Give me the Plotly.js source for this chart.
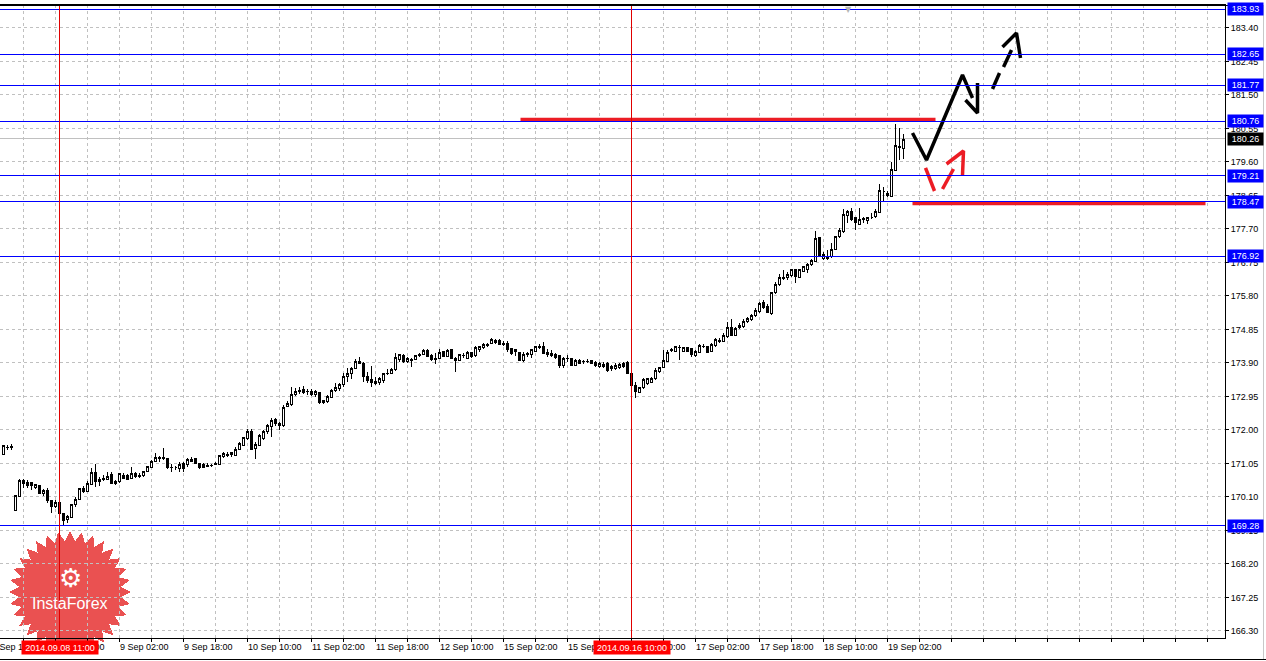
<!DOCTYPE html>
<html><head><meta charset="utf-8">
<script src="https://cdn.plot.ly/plotly-3.0.1.min.js"></script>
<style>html,body{margin:0;padding:0;background:#fff;overflow:hidden}#chart{width:1266px;height:661px}
.shapelayer path{shape-rendering:crispEdges}
.boxlayer path{shape-rendering:crispEdges}</style>
</head><body><div id="chart"></div>
<script>
// ---- Hourly candles (bar index 0 = 5 Sep 21:00) ----
const openV=[171.31,171.49,171.51,169.71,170.11,170.58,170.51,170.50,170.36,170.43,
170.19,170.28,169.99,169.83,169.94,169.62,169.47,169.52,169.90,170.04,
170.34,170.25,170.46,170.80,170.53,170.61,170.61,170.74,170.48,170.53,
170.72,170.70,170.63,170.76,170.69,170.72,170.82,170.93,171.10,171.23,
171.20,171.18,170.95,170.93,170.92,171.04,171.01,171.12,171.18,171.04,
171.03,171.00,170.98,171.03,171.03,171.25,171.31,171.31,171.29,171.46,
171.57,171.76,171.95,171.47,171.57,171.76,171.95,172.09,172.31,172.19,
172.14,172.66,172.71,173.01,173.13,173.15,173.08,173.10,173.01,173.06,
172.78,172.80,172.93,173.11,173.18,173.29,173.51,173.59,173.75,173.89,
173.89,173.51,173.42,173.37,173.34,173.40,173.59,173.61,173.72,174.01,
174.11,173.93,174.00,174.00,174.10,174.15,174.25,174.11,174.03,174.03,
174.22,174.08,174.27,174.03,173.98,174.12,174.03,174.20,174.11,174.27,
174.33,174.41,174.46,174.53,174.55,174.46,174.46,174.30,174.27,174.20,
173.98,174.17,174.15,174.22,174.36,174.36,174.20,174.17,174.14,174.11,
173.84,174.03,174.03,173.84,173.98,173.93,173.94,173.96,173.92,173.80,
173.86,173.89,173.79,173.75,173.77,173.89,173.92,173.61,173.27,173.07,
173.20,173.32,173.35,173.45,173.67,173.77,173.94,174.25,174.24,174.35,
174.24,174.33,174.32,174.11,174.20,174.36,174.36,174.22,174.39,174.52,
174.52,174.65,174.92,174.69,174.96,174.93,175.07,175.12,175.24,175.37,
175.62,175.50,175.29,175.90,176.13,176.31,176.32,176.39,176.54,176.32,
176.49,176.56,176.70,176.79,177.47,176.85,176.85,176.92,177.12,177.48,
177.62,178.08,178.21,178.02,177.83,177.97,177.93,178.04,178.05,178.17,
178.76,178.72,178.63,179.37,180.05,179.99];
const highV=[171.58,171.58,171.59,170.15,170.62,170.60,170.58,170.53,170.48,170.44,
170.32,170.36,170.00,170.01,169.96,169.66,169.59,169.91,170.11,170.36,
170.41,170.54,170.91,171.03,170.68,170.72,170.80,170.82,170.57,170.78,
170.79,170.74,170.94,170.82,170.77,170.84,170.98,171.15,171.34,171.27,
171.48,171.20,171.03,170.99,171.08,171.10,171.20,171.22,171.20,171.07,
171.05,171.05,171.04,171.10,171.29,171.39,171.38,171.38,171.53,171.67,
171.81,172.03,172.02,171.67,171.90,172.00,172.16,172.33,172.33,172.24,
172.71,172.83,173.21,173.18,173.21,173.25,173.15,173.15,173.13,173.09,
172.85,173.00,173.15,173.34,173.34,173.61,173.75,173.78,174.00,174.06,
173.92,173.65,173.81,173.51,173.51,173.61,173.72,173.75,174.19,174.15,
174.15,174.08,174.03,174.13,174.19,174.30,174.30,174.15,174.17,174.31,
174.25,174.29,174.29,174.08,174.16,174.17,174.24,174.22,174.39,174.39,
174.46,174.46,174.62,174.58,174.58,174.52,174.51,174.33,174.31,174.22,
174.20,174.22,174.30,174.39,174.43,174.50,174.30,174.27,174.17,174.14,
174.07,174.14,174.05,174.01,174.01,173.99,174.00,173.99,173.96,173.92,
173.92,173.92,173.84,173.89,173.90,173.94,173.96,173.65,173.37,173.23,
173.47,173.48,173.51,173.75,173.80,174.27,174.27,174.32,174.39,174.41,
174.36,174.36,174.33,174.27,174.43,174.43,174.39,174.46,174.62,174.60,
174.74,175.05,175.14,174.93,175.02,175.15,175.21,175.28,175.45,175.64,
175.69,175.56,175.92,176.21,176.41,176.54,176.47,176.57,176.57,176.57,
176.66,176.73,176.85,177.64,177.47,177.06,177.10,177.29,177.51,177.72,
178.27,178.24,178.29,178.05,178.30,178.05,178.04,178.14,178.27,178.97,
178.90,178.78,179.59,180.67,180.55,180.39];
const lowV=[171.28,171.43,171.44,169.69,170.10,170.35,170.35,170.30,170.34,170.18,
170.14,169.92,169.66,169.78,169.60,169.29,169.35,169.49,169.81,170.03,
170.22,170.24,170.44,170.39,170.42,170.55,170.58,170.46,170.44,170.50,
170.60,170.58,170.61,170.65,170.63,170.68,170.80,170.91,171.08,171.08,
171.15,170.89,170.80,170.86,170.82,170.82,170.96,171.08,171.03,170.88,
170.92,170.94,170.95,171.00,171.01,171.20,171.22,171.22,171.26,171.43,
171.55,171.72,171.43,171.17,171.55,171.71,171.90,171.81,172.12,172.00,
172.09,172.64,172.68,172.97,173.02,173.02,172.99,172.96,172.94,172.75,
172.73,172.77,172.90,173.09,173.11,173.23,173.37,173.46,173.72,173.86,
173.37,173.34,173.21,173.28,173.28,173.32,173.56,173.58,173.68,173.94,
173.91,173.89,173.80,173.98,174.08,174.13,174.06,173.97,173.87,174.00,
174.06,174.06,174.00,173.65,173.96,174.03,174.00,174.03,174.08,174.22,
174.30,174.36,174.43,174.43,174.41,174.39,174.22,174.13,174.11,173.96,
173.94,174.08,174.05,174.20,174.30,174.15,174.08,174.08,174.01,173.77,
173.75,173.94,173.82,173.82,173.86,173.86,173.91,173.86,173.79,173.77,
173.77,173.65,173.67,173.70,173.74,173.75,173.58,173.23,172.92,173.04,
173.16,173.29,173.32,173.42,173.63,173.75,173.92,174.20,174.22,173.98,
174.20,174.20,174.08,174.08,174.17,174.32,174.17,174.20,174.36,174.46,
174.49,174.62,174.67,174.67,174.86,174.88,175.02,175.09,175.21,175.31,
175.43,175.31,175.26,175.87,176.09,176.25,176.25,176.35,176.16,176.30,
176.47,176.44,176.66,176.77,176.92,176.82,176.82,176.89,177.10,177.45,
177.60,177.86,177.93,177.67,177.81,177.86,177.83,177.98,178.02,178.14,
178.46,178.62,178.61,179.34,179.66,179.69];
const closeV=[171.55,171.51,171.52,170.13,170.58,170.47,170.44,170.42,170.46,170.20,
170.28,169.99,169.83,169.94,169.62,169.43,169.54,169.90,170.04,170.33,
170.25,170.48,170.80,170.53,170.61,170.63,170.69,170.48,170.55,170.76,
170.63,170.61,170.77,170.69,170.71,170.82,170.96,171.12,171.23,171.20,
171.23,170.93,170.93,170.93,171.03,170.92,171.15,171.17,171.05,170.93,
170.95,170.97,171.00,171.04,171.27,171.34,171.29,171.35,171.46,171.62,
171.79,171.95,171.45,171.60,171.83,171.95,172.14,172.28,172.17,172.12,
172.64,172.74,173.02,173.09,173.09,173.06,173.09,173.01,173.08,172.77,
172.83,172.95,173.13,173.21,173.30,173.53,173.61,173.75,173.94,173.93,
173.51,173.39,173.34,173.32,173.46,173.59,173.61,173.72,174.06,174.13,
173.94,174.03,173.96,174.10,174.15,174.25,174.08,174.00,173.99,174.19,
174.08,174.25,174.03,173.96,174.13,174.10,174.20,174.08,174.33,174.36,
174.43,174.43,174.58,174.49,174.43,174.43,174.27,174.17,174.22,173.98,
174.15,174.13,174.27,174.36,174.34,174.17,174.15,174.11,174.05,173.82,
174.03,174.02,173.84,173.98,173.89,173.94,173.95,173.89,173.82,173.89,
173.80,173.70,173.73,173.84,173.86,173.80,173.61,173.26,173.09,173.20,
173.42,173.45,173.47,173.70,173.77,173.96,174.20,174.27,174.36,174.34,
174.33,174.24,174.13,174.24,174.39,174.37,174.20,174.43,174.58,174.53,
174.67,174.90,174.69,174.88,174.90,175.09,175.15,175.24,175.40,175.59,
175.47,175.34,175.90,176.13,176.32,176.32,176.41,176.54,176.35,176.54,
176.63,176.68,176.81,177.44,176.96,176.98,176.92,177.13,177.48,177.67,
178.10,178.19,177.98,177.89,177.98,178.00,178.02,178.04,178.21,178.78,
178.76,178.65,179.40,180.06,180.00,180.25];

// ---- Axis labels ----
const xLabelIdx=[-3,13,29,45,61,77,93,109,125,141,157,173,189,205,221];
const xLabelText=["5 Sep 18:00","8 Sep 10:00","9 Sep 02:00","9 Sep 18:00","10 Sep 10:00","11 Sep 02:00","11 Sep 18:00","12 Sep 10:00","15 Sep 02:00","15 Sep 18:00","16 Sep 10:00","17 Sep 02:00","17 Sep 18:00","18 Sep 10:00","19 Sep 02:00"];
const yTickVals=[166.30,167.25,168.20,169.15,170.10,171.05,172.00,172.95,173.90,174.85,175.80,176.75,177.70,178.65,179.60,180.55,181.50,182.45,183.40];

// ---- Objects on the chart ----
const levelPrices=[183.93,182.65,181.77,180.76,179.21,178.47,176.92,169.28];
const bidPrice=180.26;
const markerIdx=[14,157];
const markerText=["2014.09.08 11:00","2014.09.16 10:00"];
const redLineX0=[129.25,227.25];
const redLineX1=[233,300.5];
const redLineY=[180.805,178.42];
const blackPathX=[227.25,230.75,239.75,242.25,null,240.5,243.5,243.5];
const blackPathY=[180.422,179.656,182.067,181.415,null,181.358,180.989,181.84];
const blackDashX=[247.25,249,null,250,252,null,249.75,253.25,254.25];
const blackDashY=[181.67,182.124,null,182.294,182.776,null,182.861,183.258,182.549];
const redDashX=[230.5,232.75,null,234.75,237.5,null,235.75,240,239.75];
const redDashY=[179.43,178.777,null,178.834,179.401,null,179.543,179.912,179.231];

const xRange=[-0.875,305.375];
const yRange=[166.101,184.052];
const idx=openV.map((_,i)=>i);
const gridIdx=[];for(let g=-3;g<=305;g+=8)gridIdx.push(g);

const FONT="Liberation Sans, Arial, sans-serif";
const PW=1225, PH=633, PT=5;
const px2x=p=>p/PW, py2y=p=>(PT+PH-p)/PH;
const i2paper=i=>(i-xRange[0])/(xRange[1]-xRange[0]);

const traces=[
 {type:'candlestick',x:idx,open:openV,high:highV,low:lowV,close:closeV,
  increasing:{line:{color:'#000',width:1},fillcolor:'#fff'},
  decreasing:{line:{color:'#000',width:1},fillcolor:'#000'},
  whiskerwidth:0,hoverinfo:'skip',showlegend:false}
];
for(let k=0;k<redLineY.length;k++){
  traces.push({type:'scatter',mode:'lines',x:[redLineX0[k],redLineX1[k]],y:[redLineY[k],redLineY[k]],
   line:{color:'#ec1c24',width:3.5},hoverinfo:'skip',showlegend:false});
}
traces.push({type:'scatter',mode:'lines',x:blackPathX,y:blackPathY,line:{color:'#000',width:3.5},connectgaps:false,hoverinfo:'skip',showlegend:false});
traces.push({type:'scatter',mode:'lines',x:blackDashX,y:blackDashY,line:{color:'#000',width:3.5},connectgaps:false,hoverinfo:'skip',showlegend:false});
traces.push({type:'scatter',mode:'lines',x:redDashX,y:redDashY,line:{color:'#ec1c24',width:3.5},connectgaps:false,hoverinfo:'skip',showlegend:false});

const shapes=[];
// InstaForex logo starburst
(function(){
  const cx=70,cy=592,R=61,r=51,N=32;let d='';
  for(let k=0;k<2*N;k++){
    const a=-Math.PI/2+k*Math.PI/N, rr=(k%2===0)?R:r;
    const X=cx+rr*Math.cos(a), Y=cy+rr*Math.sin(a);
    d+=(k===0?'M':'L')+px2x(X).toFixed(5)+','+py2y(Y).toFixed(5);
  }
  d+='Z';
  shapes.push({type:'path',xref:'paper',yref:'paper',path:d,fillcolor:'rgba(232,62,62,0.9)',line:{width:0},layer:'between'});
})();
levelPrices.forEach(p=>shapes.push({type:'line',xref:'paper',yref:'y',x0:0,x1:1,y0:p,y1:p,line:{color:'#0000ff',width:1},layer:'above'}));
shapes.push({type:'line',xref:'paper',yref:'y',x0:0,x1:1,y0:bidPrice,y1:bidPrice,line:{color:'#c0c0c0',width:1},layer:'between'});
markerIdx.forEach(i=>shapes.push({type:'line',xref:'x',yref:'paper',x0:i,x1:i,y0:0,y1:1,line:{color:'#e00000',width:1},layer:'above'}));
// frame
shapes.push({type:'line',xref:'paper',yref:'paper',x0:0,x1:px2x(1263),y0:1,y1:1,line:{color:'#000',width:1}});
shapes.push({type:'line',xref:'paper',yref:'paper',x0:0,x1:px2x(1266),y0:py2y(659.5),y1:py2y(659.5),line:{color:'#000',width:1}});
shapes.push({type:'line',xref:'paper',yref:'paper',x0:px2x(1263.5),x1:px2x(1263.5),y0:py2y(5),y1:py2y(659),line:{color:'#c8c8c8',width:1}});

const annotations=[];
xLabelIdx.forEach((i,k)=>annotations.push({xref:'paper',yref:'paper',x:i2paper(i),y:0,xanchor:'left',yanchor:'top',yshift:-2,xshift:-2,
  text:xLabelText[k],showarrow:false,font:{family:FONT,size:9,color:'#000'}}));
markerIdx.forEach((i,k)=>annotations.push({xref:'x',yref:'paper',x:i,y:0,xanchor:'center',yanchor:'top',yshift:-2,
  text:markerText[k],showarrow:false,bgcolor:'#ff0000',width:74,height:11,borderpad:1,font:{family:FONT,size:9,color:'#fff'}}));
levelPrices.forEach(p=>annotations.push({xref:'paper',yref:'y',x:1,y:p,xanchor:'left',yanchor:'middle',xshift:2,
  text:p.toFixed(2),showarrow:false,bgcolor:'#0000ff',width:33,height:10,borderpad:1,font:{family:FONT,size:9,color:'#fff'}}));
annotations.push({xref:'paper',yref:'y',x:1,y:bidPrice,xanchor:'left',yanchor:'middle',xshift:2,
  text:bidPrice.toFixed(2),showarrow:false,bgcolor:'#000',width:33,height:10,borderpad:1,font:{family:FONT,size:9,color:'#fff'}});
annotations.push({xref:'paper',yref:'paper',x:px2x(70),y:py2y(578),xanchor:'center',yanchor:'middle',text:'⚙',showarrow:false,
  font:{family:'DejaVu Sans',size:26,color:'#fff'}});
annotations.push({xref:'paper',yref:'paper',x:px2x(70),y:py2y(603),xanchor:'center',yanchor:'middle',text:'InstaForex',showarrow:false,
  font:{family:FONT,size:16,color:'#fff'}});
annotations.push({xref:'paper',yref:'paper',x:px2x(848),y:1,xanchor:'center',yanchor:'top',yshift:2,text:'▼',showarrow:false,
  font:{family:'DejaVu Sans',size:8,color:'#b4b4b4'}});

const layout={
  width:1266,height:661,margin:{l:0,r:41,t:5,b:23,pad:0},
  paper_bgcolor:'#fff',plot_bgcolor:'#fff',showlegend:false,
  font:{family:FONT,size:9,color:'#000'},
  boxmode:'overlay',boxgap:0.5,boxgroupgap:0,
  xaxis:{range:xRange,rangeslider:{visible:false},tickmode:'array',tickvals:gridIdx,showticklabels:false,
    ticks:'outside',ticklen:3,tickcolor:'#000',showgrid:true,gridcolor:'#c0c0c0',griddash:'3px,3px',gridwidth:1,
    showline:true,linecolor:'#000',linewidth:1,mirror:true,zeroline:false,fixedrange:true},
  yaxis:{range:yRange,side:'right',tickmode:'array',tickvals:yTickVals,tickformat:'.2f',
    ticks:'outside',ticklen:3,tickcolor:'#000',showgrid:true,gridcolor:'#c0c0c0',griddash:'3px,3px',gridwidth:1,
    showline:true,linecolor:'#000',linewidth:1,zeroline:false,fixedrange:true,tickfont:{family:FONT,size:9,color:'#000'}},
  shapes:shapes,annotations:annotations
};
Plotly.newPlot('chart',traces,layout,{displayModeBar:false,staticPlot:true});
</script></body></html>
